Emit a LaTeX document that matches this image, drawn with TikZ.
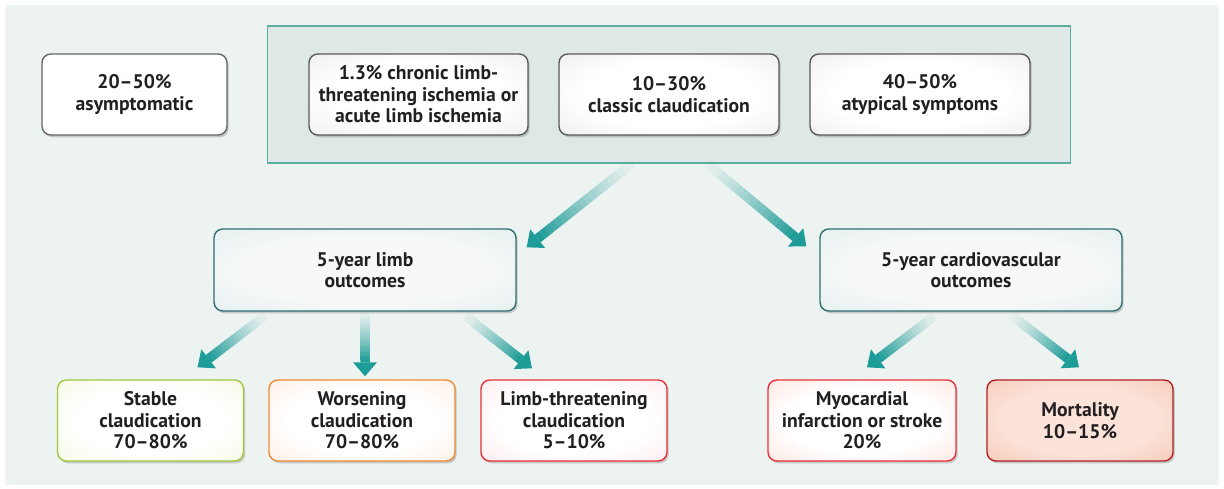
\documentclass[tikz,border=0pt]{standalone}
\usepackage{fontspec}
\setmainfont{PT Sans}
\usetikzlibrary{calc,shadows}

\definecolor{bgcol}{HTML}{EDF3F1}
\definecolor{ink}{HTML}{231F20}
\definecolor{arrowteal}{HTML}{1E9C98}
\definecolor{groupline}{HTML}{5BAE9E}
\definecolor{groupfill}{HTML}{DEE8E6}
\definecolor{tealline}{HTML}{2F6E73}
\definecolor{tealout}{HTML}{D6E7E7}
\definecolor{greenline}{HTML}{9DC93B}
\definecolor{greenout}{HTML}{EEF5CE}
\definecolor{orangeline}{HTML}{F08A35}
\definecolor{orangeout}{HTML}{FDE1CD}
\definecolor{redline}{HTML}{E8303A}
\definecolor{redout}{HTML}{FCDDDF}
\definecolor{salmonout}{HTML}{F9D2C6}
\definecolor{darkred}{HTML}{B71F24}
\definecolor{mortin}{HTML}{FBE3D9}
\definecolor{mortout}{HTML}{F5B69E}
\colorlet{glowin}{white}
\colorlet{glowout}{gray}
\pgfdeclareradialshading[glowin,glowout]{glow}{\pgfpoint{0bp}{0bp}}{color(0bp)=(glowin); color(20bp)=(glowin); color(52bp)=(glowout)}

% fading arrow from #1 to #2
\newcommand{\flowarrow}[2]{%
  \coordinate (fa-head) at ($(#2)!0.28cm!(#1)$);% base of the head
  \foreach \k in {0,...,19}{%
    \pgfmathsetmacro{\fop}{0.04+0.96*(\k/19)^1.3}%
    \draw[shaft, draw opacity=\fop] ($(#1)!\k/20!(fa-head)$) -- ($(#1)!{(\k+1)/20}!(fa-head)$);
  }%
  \fill[arrowteal] (#2) -- ($(fa-head)!0.24cm!90:(#2)$) -- ($(fa-head)!0.24cm!-90:(#2)$) -- cycle;
}

\begin{document}
\begin{tikzpicture}[x=0.02cm, y=-0.02cm,
    card/.style n args={3}{draw=#1, /utils/exec={\colorlet{glowin}{#2}\colorlet{glowout}{#3}}, shading=glow,
      rounded corners=5pt, line width=0.8pt, minimum height=1.62cm, inner sep=2pt, align=center, text=ink,
      font=\bfseries\fontsize{11.2}{12.2}\selectfont,
      drop shadow={shadow xshift=1pt, shadow yshift=-1.3pt, opacity=0.25, fill=black!70}},
    shaft/.style={arrowteal, line width=0.19cm}]
	\useasboundingbox (0,0) rectangle (1224,489);
	\fill[bgcol] (5,5) rectangle (1219,485);% background
	\node[draw=groupline, fill=groupfill, line width=0.6pt,
	  minimum width=16.08cm, minimum height=2.74cm] (group) at (669,94.5) {};% symptomatic group
	% first row
	\node[card={black!60}{white}{white}, minimum width=3.7cm] (asym) at (134.5,94.5) {20--50\%\\asymptomatic};
	\node[card={black!65}{white}{black!12}, minimum width=4.38cm] (clti) at (418.5,94.5) {1.3\% chronic limb-\\threatening ischemia or\\acute limb ischemia};
	\node[card={black!65}{white}{black!12}, minimum width=4.4cm] (classic) at (669,94.5) {10--30\%\\classic claudication};
	\node[card={black!65}{white}{black!12}, minimum width=4.4cm] (atyp) at (920,94.5) {40--50\%\\atypical symptoms};
	% outcome row
	\node[card={tealline}{white!50!bgcol}{tealout}, minimum width=6.04cm, minimum height=1.64cm] (limb) at (365,270) {5-year limb\\outcomes};
	\node[card={tealline}{white!50!bgcol}{tealout}, minimum width=6.04cm, minimum height=1.64cm] (cardio) at (971,270) {5-year cardiovascular\\outcomes};
	% bottom row
	\node[card={greenline}{white}{greenout}, minimum width=3.72cm] (stable) at (150.5,420.5) {Stable\\claudication\\70--80\%};
	\node[card={orangeline}{white}{orangeout}, minimum width=3.72cm] (worse) at (362,420.5) {Worsening\\claudication\\70--80\%};
	\node[card={redline}{white}{redout}, minimum width=3.72cm] (lthreat) at (574,420.5) {Limb-threatening\\claudication\\5--10\%};
	\node[card={redline}{white}{salmonout}, minimum width=3.76cm] (mi) at (862,420.5) {Myocardial\\infarction or stroke\\20\%};
	\node[card={darkred}{mortin}{mortout}, minimum width=3.72cm] (mort) at (1080,420.5) {Mortality\\10--15\%};
	% arrows
	\coordinate (t1) at ($(group.south)+(-37,0)$);
	\coordinate (h1) at ($(limb.north east)+(10,19)$);
	\coordinate (t2) at ($(group.south)+(38,0)$);
	\coordinate (h2) at ($(cardio.north west)+(-13,18)$);
	\coordinate (t3) at ($(limb.south)+(-100,4)$);
	\coordinate (h3) at ($(stable.north)+(47,-12)$);
	\coordinate (t4) at (limb.south);
	\coordinate (h4) at ($(limb.south |- worse.north)+(0,-3)$);
	\coordinate (t5) at ($(limb.south)+(100,4)$);
	\coordinate (h5) at ($(lthreat.north)+(-42,-11)$);
	\coordinate (t6) at ($(cardio.south)+(-36,4)$);
	\coordinate (h6) at ($(mi.north)+(5,-12)$);
	\coordinate (t7) at ($(cardio.south)+(41,4)$);
	\coordinate (h7) at ($(mort.north)+(-1,-12)$);
	\foreach \a/\b in {t1/h1,t2/h2,t3/h3,t4/h4,t5/h5,t6/h6,t7/h7}
	  \flowarrow{\a}{\b};
\end{tikzpicture}
\end{document}
